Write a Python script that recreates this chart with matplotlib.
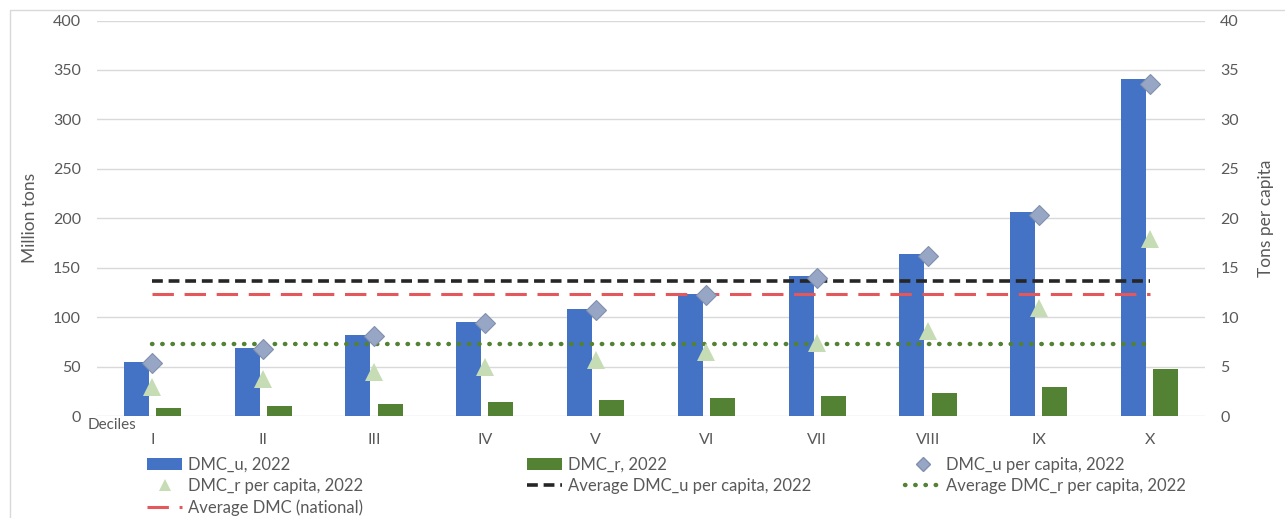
import matplotlib
matplotlib.use("Agg")
import matplotlib.pyplot as plt
import numpy as np
from matplotlib.lines import Line2D
from matplotlib.patches import Patch, Rectangle

plt.rcParams["font.family"] = ["Lato", "DejaVu Sans"]

# data
deciles = ["I", "II", "III", "IV", "V", "VI", "VII", "VIII", "IX", "X"]
dmc_u = [55, 69, 82, 95, 108, 123, 142, 164, 206, 341]          # million tons
dmc_r = [8, 10, 12, 14, 16, 18, 20, 23, 29, 48]                 # million tons
dmc_u_pc = [5.4, 6.8, 8.1, 9.4, 10.7, 12.2, 14.0, 16.2, 20.3, 33.6]   # t/capita
dmc_r_pc = [2.9, 3.7, 4.4, 5.0, 5.7, 6.5, 7.4, 8.6, 10.9, 17.9]       # t/capita
avg_u_pc = 13.7
avg_r_pc = 7.3
avg_national = 12.3

BLUE = "#4472C4"
GREEN = "#548235"
DIAM = "#97A6C4"
TRI = "#C5DCB5"
TXT = "#595959"
GRID = "#D9D9D9"

W, H = 1285, 518
fig = plt.figure(figsize=(W / 100, H / 100), dpi=100)
fig.patches.append(Rectangle((10 / W, -0.1), 1.2, 1 - 10 / H + 0.1,
                             transform=fig.transFigure, fill=False,
                             edgecolor=GRID, linewidth=1.0))

x0, x1, y0, y1 = 97, 1205, 416, 20.5
ax = fig.add_axes([x0 / W, 1 - y0 / H, (x1 - x0) / W, (y0 - y1) / H])
ax2 = ax.twinx()

x = np.arange(len(deciles))
bw = 0.225
ax.bar(x - 0.145, dmc_u, bw, color=BLUE, zorder=2)
ax.bar(x + 0.145, dmc_r, bw, color=GREEN, zorder=2)

ax.set_xlim(-0.5, len(deciles) - 0.5)
ax.set_ylim(0, 400)
ax.set_yticks(range(0, 401, 50))
ax.yaxis.grid(True, color=GRID, linewidth=1.0, zorder=0)
ax.set_axisbelow(True)
ax.set_xticks(x)
ax.set_xticklabels(deciles)
ax.tick_params(axis="both", length=0, colors=TXT, labelsize=11.5)
ax.tick_params(axis="x", pad=12)
ax.tick_params(axis="y", pad=11.5)
ax.set_ylabel("Million tons", color=TXT, fontsize=12.5, labelpad=11)

ax2.set_ylim(0, 40)
ax2.set_yticks(range(0, 41, 5))
ax2.tick_params(axis="y", length=0, colors=TXT, labelsize=11.5, pad=11)
ax2.set_ylabel("Tons per capita", color=TXT, fontsize=12.5, labelpad=14)

for a in (ax, ax2):
    for s in a.spines.values():
        s.set_visible(False)

ax2.plot(x, [avg_u_pc] * len(x), color="#262626", linestyle=(0, (3, 1.6)),
         linewidth=2.6, zorder=3)
ax2.plot(x, [avg_national] * len(x), color="#E4585C", linestyle=(0, (7, 3.5)),
         linewidth=2.2, zorder=3)
ax2.plot(x, [avg_r_pc] * len(x), color=GREEN, linestyle=(0, (0.1, 2.2)),
         linewidth=3.2, dash_capstyle="round", zorder=3)
ax2.plot(x, dmc_u_pc, linestyle="none", marker="D", markersize=10,
         color=DIAM, markeredgecolor="#8090AE", markeredgewidth=0.8, zorder=4)
ax2.plot(x, dmc_r_pc, linestyle="none", marker="^", markersize=13,
         color=TRI, markeredgewidth=0, zorder=4)

fig.text(88 / W, 1 - 425 / H, "Deciles", color=TXT, fontsize=11,
         ha="left", va="center")

# legend, three columns placed like the original
h_u = Patch(facecolor=BLUE)
h_r = Patch(facecolor=GREEN)
h_upc = Line2D([], [], linestyle="none", marker="D", markersize=7,
               color=DIAM, markeredgecolor="#8090AE")
h_rpc = Line2D([], [], linestyle="none", marker="^", markersize=8,
               color=TRI, markeredgewidth=0)
h_avu = Line2D([], [], color="#262626", linestyle=(0, (3, 1.6)), linewidth=2.6)
h_avr = Line2D([], [], color=GREEN, linestyle=(0, (0.1, 2.2)), linewidth=3.2,
               dash_capstyle="round")
h_nat = Line2D([], [], color="#E4585C", linestyle=(0, (7, 3.5)), linewidth=2.2)

cols = [
    (147, [h_u, h_rpc, h_nat],
     ["DMC_u, 2022", "DMC_r per capita, 2022", "Average DMC (national)"]),
    (527, [h_r, h_avu], ["DMC_r, 2022", "Average DMC_u per capita, 2022"]),
    (905, [h_upc, h_avr], ["DMC_u per capita, 2022", "Average DMC_r per capita, 2022"]),
]
for cx, hs, ls in cols:
    leg = fig.legend(hs, ls, loc="upper left", bbox_to_anchor=(cx / W, 1 - 457 / H),
                     frameon=False, fontsize=12, handlelength=2.1,
                     handleheight=0.75, handletextpad=0.35, labelspacing=0.3,
                     borderpad=0, borderaxespad=0)
    for t in leg.get_texts():
        t.set_color(TXT)

fig.savefig("out.png", dpi=100)
